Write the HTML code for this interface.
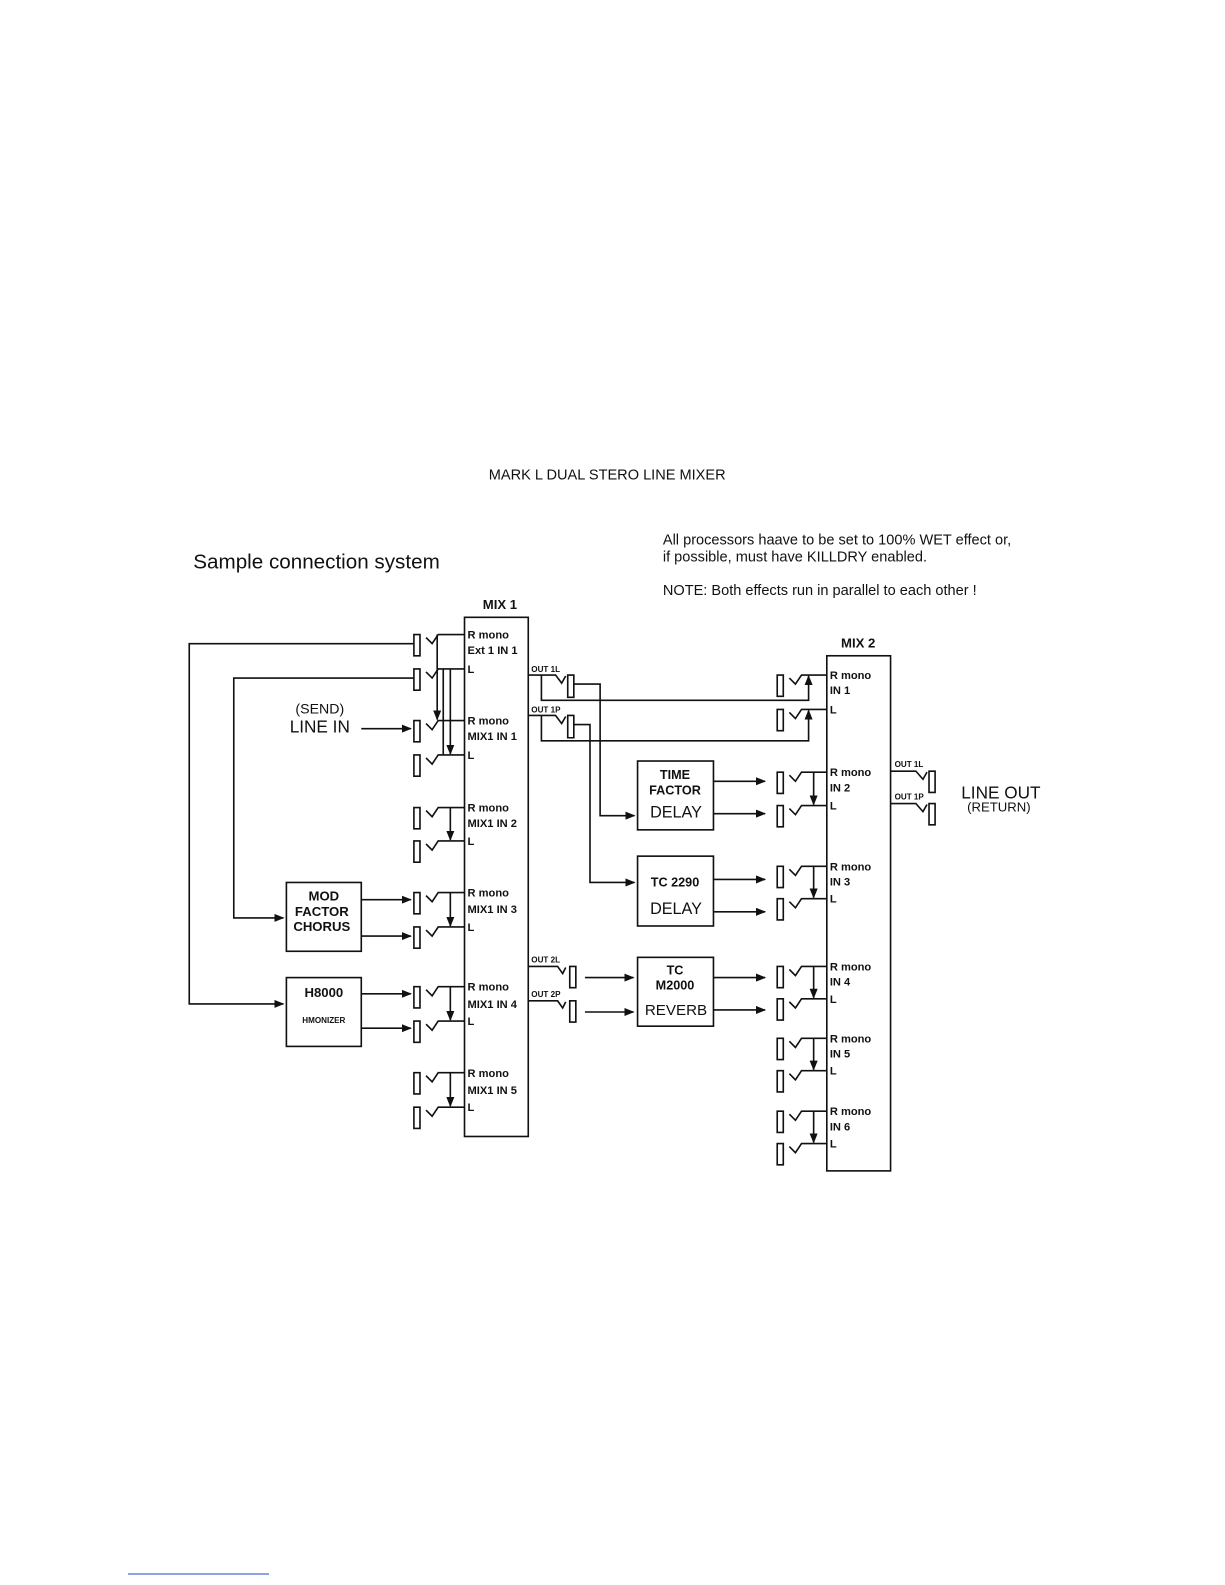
<!DOCTYPE html>
<html><head><meta charset="utf-8"><style>
html,body{margin:0;padding:0;background:#fff;}
svg{display:block;}
text{font-family:"Liberation Sans",sans-serif;fill:#111;}
.b{font-weight:bold;font-size:11px;}
.s{font-weight:bold;font-size:8px;}
</style></head><body>
<svg width="1225" height="1585" viewBox="0 0 1225 1585" xmlns="http://www.w3.org/2000/svg">
<defs>
<marker id="a" markerWidth="10" markerHeight="8" refX="9" refY="4" orient="auto" markerUnits="userSpaceOnUse"><path d="M0,0 L10,4 L0,8 z" fill="#111"/></marker>
</defs>
<g transform="scale(1.012)" stroke="#111" stroke-width="1.6" fill="none">
<text x="600" y="474" text-anchor="middle" stroke="none" style="font-size:14.4px">MARK L  DUAL STERO LINE MIXER</text>
<text x="191" y="562" stroke="none" style="font-size:20.4px">Sample connection system</text>
<text x="655" y="538" stroke="none" style="font-size:14.4px">All processors haave to be set to 100% WET effect or,</text>
<text x="655" y="555" stroke="none" style="font-size:14.4px">if possible, must have  KILLDRY  enabled.</text>
<text x="655" y="588" stroke="none" style="font-size:14.4px">NOTE: Both effects run in parallel to each other !</text>

<rect x="459" y="610" width="63" height="513"/>
<text x="494" y="602" text-anchor="middle" stroke="none" style="font-weight:bold;font-size:13px">MIX 1</text>
<rect x="817" y="648" width="63" height="509"/>
<text x="848" y="640" text-anchor="middle" stroke="none" style="font-weight:bold;font-size:13px">MIX 2</text>

<g>
<path d="M409,627 h6 v21 h-6 z M421,630 L427,636 L433,627 H459"/>
<path d="M409,661 h6 v21 h-6 z M421,664 L427,670 L433,661 H459"/>
<path d="M409,712 h6 v21 h-6 z M421,715 L427,721 L433,712 H459"/>
<path d="M409,746 h6 v21 h-6 z M421,749 L427,755 L433,746 H459"/>
<path d="M409,798 h6 v21 h-6 z M421,801 L427,807 L433,798 H459"/>
<path d="M409,831 h6 v21 h-6 z M421,834 L427,840 L433,831 H459"/>
<path d="M409,882 h6 v21 h-6 z M421,885 L427,891 L433,882 H459"/>
<path d="M409,916 h6 v21 h-6 z M421,919 L427,925 L433,916 H459"/>
<path d="M409,975 h6 v21 h-6 z M421,978 L427,984 L433,975 H459"/>
<path d="M409,1009 h6 v21 h-6 z M421,1012 L427,1018 L433,1009 H459"/>
<path d="M409,1060 h6 v21 h-6 z M421,1063 L427,1069 L433,1060 H459"/>
<path d="M409,1094 h6 v21 h-6 z M421,1097 L427,1103 L433,1094 H459"/>
</g>
<path d="M432,627 V711" marker-end="url(#a)"/>
<path d="M438,661 V746"/>
<path d="M445,661 V745" marker-end="url(#a)"/>
<path d="M445,798 V830" marker-end="url(#a)"/>
<path d="M445,882 V915" marker-end="url(#a)"/>
<path d="M445,975 V1008" marker-end="url(#a)"/>
<path d="M445,1060 V1093" marker-end="url(#a)"/>

<g stroke="none">
<text class="b" x="462" y="631">R mono</text><text class="b" x="462" y="646">Ext 1 IN 1</text><text class="b" x="462" y="665">L</text>
<text class="b" x="462" y="716">R mono</text><text class="b" x="462" y="731">MIX1 IN 1</text><text class="b" x="462" y="750">L</text>
<text class="b" x="462" y="802">R mono</text><text class="b" x="462" y="817">MIX1 IN 2</text><text class="b" x="462" y="835">L</text>
<text class="b" x="462" y="886">R mono</text><text class="b" x="462" y="902">MIX1 IN 3</text><text class="b" x="462" y="920">L</text>
<text class="b" x="462" y="979">R mono</text><text class="b" x="462" y="996">MIX1 IN 4</text><text class="b" x="462" y="1013">L</text>
<text class="b" x="462" y="1064">R mono</text><text class="b" x="462" y="1081">MIX1 IN 5</text><text class="b" x="462" y="1098">L</text>
</g>

<path d="M409,636 H187 V992 H280" marker-end="url(#a)"/>
<path d="M409,670 H231 V907 H280" marker-end="url(#a)"/>
<path d="M357,720 H406" marker-end="url(#a)"/>
<text x="316" y="705" text-anchor="middle" stroke="none" style="font-size:14px">(SEND)</text>
<text x="316" y="724" text-anchor="middle" stroke="none" style="font-size:17px">LINE IN</text>

<rect x="283" y="872" width="74" height="68"/>
<g stroke="none" style="font-weight:bold;font-size:13px" text-anchor="middle">
<text x="320" y="890">MOD</text><text x="318" y="905">FACTOR</text><text x="318" y="920">CHORUS</text>
<text x="320" y="985">H8000</text>
</g>
<text x="320" y="1011" text-anchor="middle" stroke="none" style="font-weight:bold;font-size:8px">HMONIZER</text>
<rect x="283" y="966" width="74" height="68"/>
<path d="M357,889 H406" marker-end="url(#a)"/>
<path d="M357,925 H406" marker-end="url(#a)"/>
<path d="M357,982 H406" marker-end="url(#a)"/>
<path d="M357,1016 H406" marker-end="url(#a)"/>

<path d="M522,667 H549 L555,675 L559,668 M561,667 h6 v22 h-6 z"/>
<path d="M535,667 V692 H799 V668" marker-end="url(#a)"/>
<path d="M567,676 H593 V806 H627" marker-end="url(#a)"/>
<path d="M522,707 H549 L555,715 L559,708 M561,707 h6 v22 h-6 z"/>
<path d="M535,707 V732 H799 V702" marker-end="url(#a)"/>
<path d="M567,716 H583 V872 H627" marker-end="url(#a)"/>
<path d="M522,955 H551 L556,962 L559,956 M563,955 h6 v21 h-6 z"/>
<path d="M522,989 H551 L556,996 L559,990 M563,989 h6 v21 h-6 z"/>
<path d="M578,966 H626" marker-end="url(#a)"/>
<path d="M578,1000 H626" marker-end="url(#a)"/>
<g stroke="none">
<text class="s" x="525" y="664">OUT 1L</text>
<text class="s" x="525" y="704">OUT 1P</text>
<text class="s" x="525" y="951">OUT 2L</text>
<text class="s" x="525" y="985">OUT 2P</text>
</g>

<rect x="630" y="752" width="75" height="68"/>
<rect x="630" y="846" width="75" height="69"/>
<rect x="630" y="946" width="75" height="68"/>
<g stroke="none" text-anchor="middle">
<text x="667" y="770" style="font-weight:bold;font-size:12.5px">TIME</text>
<text x="667" y="785" style="font-weight:bold;font-size:12.5px">FACTOR</text>
<text x="668" y="808" style="font-size:16px">DELAY</text>
<text x="667" y="876" style="font-weight:bold;font-size:12.5px">TC 2290</text>
<text x="668" y="903" style="font-size:16px">DELAY</text>
<text x="667" y="963" style="font-weight:bold;font-size:12.5px">TC</text>
<text x="667" y="978" style="font-weight:bold;font-size:12.5px">M2000</text>
<text x="668" y="1003" style="font-size:15px">REVERB</text>
</g>
<path d="M705,772 H756" marker-end="url(#a)"/>
<path d="M705,804 H756" marker-end="url(#a)"/>
<path d="M705,869 H756" marker-end="url(#a)"/>
<path d="M705,901 H756" marker-end="url(#a)"/>
<path d="M705,966 H756" marker-end="url(#a)"/>
<path d="M705,998 H756" marker-end="url(#a)"/>

<path d="M768,667 h6 v21 h-6 z M780,670 L786,676 L792,667 H817"/>
<path d="M768,701 h6 v21 h-6 z M780,704 L786,710 L792,701 H817"/>
<path d="M768,763 h6 v21 h-6 z M780,766 L786,772 L792,763 H817"/>
<path d="M768,796 h6 v21 h-6 z M780,799 L786,805 L792,796 H817"/>
<path d="M768,856 h6 v21 h-6 z M780,859 L786,865 L792,856 H817"/>
<path d="M768,888 h6 v21 h-6 z M780,891 L786,897 L792,888 H817"/>
<path d="M768,955 h6 v21 h-6 z M780,958 L786,964 L792,955 H817"/>
<path d="M768,987 h6 v21 h-6 z M780,990 L786,996 L792,987 H817"/>
<path d="M768,1026 h6 v21 h-6 z M780,1029 L786,1035 L792,1026 H817"/>
<path d="M768,1058 h6 v21 h-6 z M780,1061 L786,1067 L792,1058 H817"/>
<path d="M768,1098 h6 v21 h-6 z M780,1101 L786,1107 L792,1098 H817"/>
<path d="M768,1130 h6 v21 h-6 z M780,1133 L786,1139 L792,1130 H817"/>
<path d="M804,763 V795" marker-end="url(#a)"/>
<path d="M804,856 V887" marker-end="url(#a)"/>
<path d="M804,955 V986" marker-end="url(#a)"/>
<path d="M804,1026 V1057" marker-end="url(#a)"/>
<path d="M804,1098 V1129" marker-end="url(#a)"/>
<g stroke="none">
<text class="b" x="820" y="671">R mono</text><text class="b" x="820" y="686">IN 1</text><text class="b" x="820" y="705">L</text>
<text class="b" x="820" y="767">R mono</text><text class="b" x="820" y="782">IN 2</text><text class="b" x="820" y="800">L</text>
<text class="b" x="820" y="860">R mono</text><text class="b" x="820" y="875">IN 3</text><text class="b" x="820" y="892">L</text>
<text class="b" x="820" y="959">R mono</text><text class="b" x="820" y="974">IN 4</text><text class="b" x="820" y="991">L</text>
<text class="b" x="820" y="1030">R mono</text><text class="b" x="820" y="1045">IN 5</text><text class="b" x="820" y="1062">L</text>
<text class="b" x="820" y="1102">R mono</text><text class="b" x="820" y="1117">IN 6</text><text class="b" x="820" y="1134">L</text>
</g>

<path d="M880,762 H905 L912,770 L916,763 M918,762 h6 v21 h-6 z"/>
<path d="M880,794 H905 L912,802 L916,795 M918,794 h6 v21 h-6 z"/>
<g stroke="none">
<text class="s" x="884" y="758">OUT 1L</text>
<text class="s" x="884" y="790">OUT 1P</text>
<text x="989" y="789" text-anchor="middle" style="font-size:17px">LINE OUT</text>
<text x="987" y="802" text-anchor="middle" style="font-size:13px">(RETURN)</text>
</g>
</g>
<line x1="128" y1="1574" x2="269" y2="1574" stroke="#2244cc" stroke-width="1"/>
</svg>
</body></html>
